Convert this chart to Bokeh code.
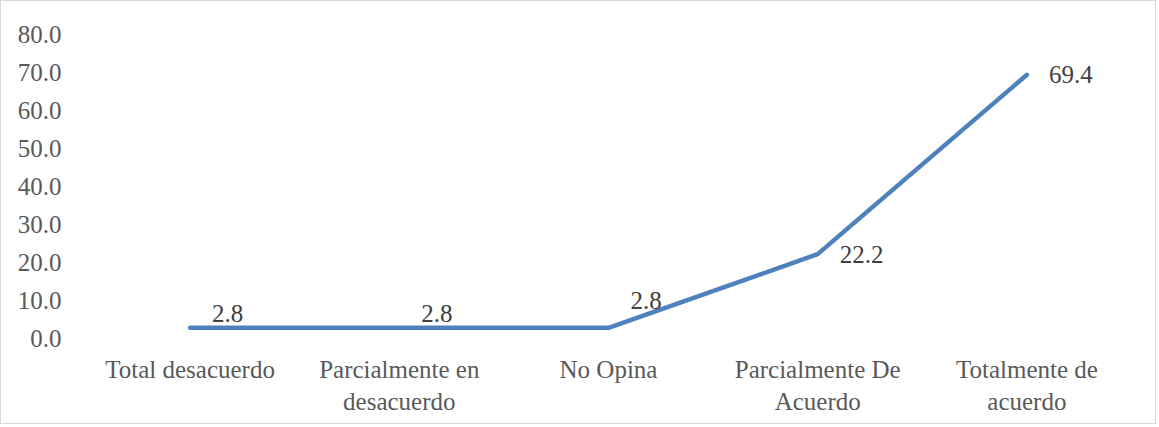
from bokeh.plotting import figure
from bokeh.models import ColumnDataSource, FactorRange, Range1d, PrintfTickFormatter, FixedTicker
from bokeh.core.properties import value
from bokeh.embed import file_html
from bokeh.resources import INLINE

categories = ["Total desacuerdo", "Parcialmente en\ndesacuerdo", "No Opina",
              "Parcialmente De\nAcuerdo", "Totalmente de\nacuerdo"]
values = [2.8, 2.8, 2.8, 22.2, 69.4]
labels = ["2.8", "2.8", "2.8", "22.2", "69.4"]
y_ticks = [0, 10, 20, 30, 40, 50, 60, 70, 80]

# label vertical nudges (screen px) to avoid overlapping the flat line
label_dy = [-14, -14, -27, 0, 0]

FONT = "Liberation Serif"

src = ColumnDataSource(dict(x=categories, y=values, t=labels, dy=label_dy))

p = figure(width=1156, height=424, x_range=FactorRange(*categories, range_padding=0),
           y_range=Range1d(0, 80), output_backend="svg", toolbar_location=None,
           min_border_left=84, min_border_right=26, min_border_top=33, min_border_bottom=87)

p.styles = {"border": "1px solid #d9d9d9"}
p.outline_line_color = None
p.xgrid.grid_line_color = None
p.ygrid.grid_line_color = None
p.background_fill_color = "white"
p.border_fill_color = "white"

p.line("x", "y", source=src, line_color="#4f81bd", line_width=4.5,
       line_cap="round", line_join="round")
p.text("x", "y", text="t", source=src, x_offset=22, y_offset="dy",
       text_align="left", text_baseline="middle",
       text_font=value(FONT), text_font_size="25px", text_color="#404040")

for ax in (p.xaxis[0], p.yaxis[0]):
    ax.axis_line_color = None
    ax.major_tick_line_color = None
    ax.minor_tick_line_color = None
    ax.major_tick_out = 0
    ax.major_tick_in = 0
    ax.minor_tick_out = 0
    ax.major_label_text_font = FONT
    ax.major_label_text_font_size = "25px"
    ax.major_label_text_color = "#595959"

p.yaxis[0].ticker = FixedTicker(ticks=y_ticks)
p.yaxis[0].formatter = PrintfTickFormatter(format="%.1f")
p.yaxis[0].major_label_standoff = 24
p.xaxis[0].major_label_standoff = 17

open("out.html", "w").write(file_html(p, INLINE))
